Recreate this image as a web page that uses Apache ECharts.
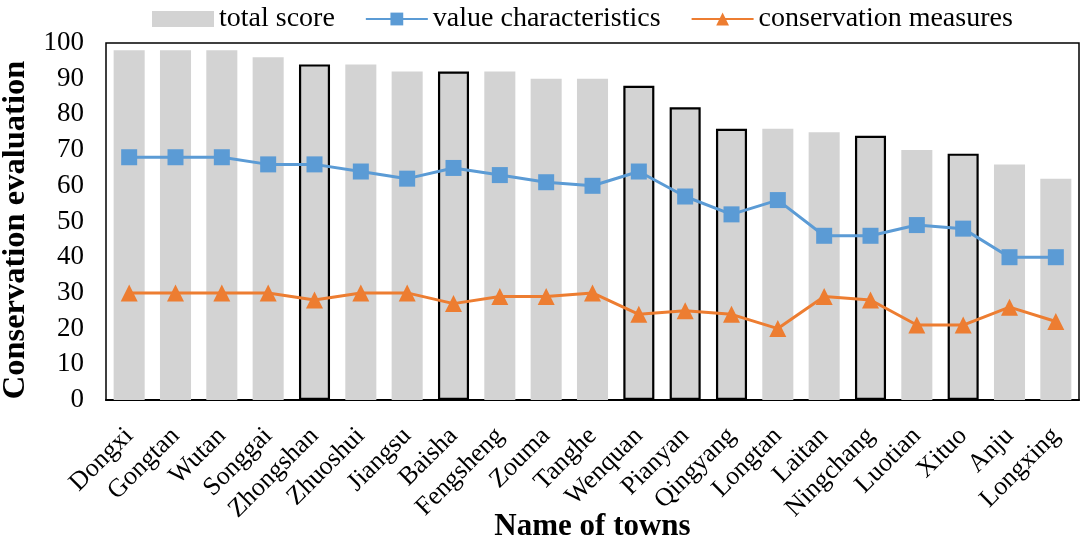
<!DOCTYPE html>
<html>
<head>
<meta charset="utf-8">
<script src="https://cdn.jsdelivr.net/npm/echarts@6/dist/echarts.min.js"></script>
<style>
  html, body { margin: 0; padding: 0; background: #fff; }
  #container { width: 1084px; height: 541px; }
</style>
</head>
<body>
<div id="container"></div>
<script>
var towns = ['Dongxi', 'Gongtan', 'Wutan', 'Songgai', 'Zhongshan', 'Zhuoshui', 'Jiangsu', 'Baisha',
  'Fengsheng', 'Zouma', 'Tanghe', 'Wenquan', 'Pianyan', 'Qingyang', 'Longtan', 'Laitan',
  'Ningchang', 'Luotian', 'Xituo', 'Anju', 'Longxing'];
var totalScore = [98, 98, 98, 96, 94, 94, 92, 92, 92, 90, 90, 88, 82, 76, 76, 75, 74, 70, 69, 66, 62];
var valueChar = [68, 68, 68, 66, 66, 64, 62, 65, 63, 61, 60, 64, 57, 52, 56, 46, 46, 49, 48, 40, 40];
var consMeasures = [30, 30, 30, 30, 28, 30, 30, 27, 29, 29, 30, 24, 25, 24, 20, 29, 28, 21, 21, 26, 22];
// towns drawn with a black outline in the original figure
var outlined = ['Zhongshan', 'Baisha', 'Wenquan', 'Pianyan', 'Qingyang', 'Ningchang', 'Xituo'];

var dom = document.getElementById('container');
var myChart = echarts.init(dom, null, { renderer: 'canvas' });
var font = '"Liberation Serif", "Times New Roman", serif';

var barData = totalScore.map(function (v, i) {
  if (outlined.indexOf(towns[i]) >= 0) {
    return { value: v, itemStyle: { borderColor: '#000', borderWidth: 2.2 } };
  }
  return v;
});

var option = {
  animation: false,
  textStyle: { fontFamily: font },
  legend: {
    top: 0,
    left: 147,
    itemGap: 30,
    itemWidth: 62,
    itemHeight: 16,
    textStyle: { fontFamily: font, fontSize: 28, color: '#000' },
    data: [
      { name: 'total score', icon: 'rect' },
      'value characteristics',
      'conservation measures'
    ]
  },
  grid: {
    left: 106,
    right: 5,
    top: 43,
    bottom: 141,
    containLabel: false,
    outerBoundsMode: 'none',
    show: true,
    borderColor: '#000',
    borderWidth: 1.5
  },
  xAxis: {
    type: 'category',
    data: towns,
    name: 'Name of towns',
    nameLocation: 'middle',
    nameGap: 111,
    nameMoveOverlap: false,
    nameTextStyle: { fontFamily: font, fontSize: 31, fontWeight: 'bold', color: '#000' },
    axisLine: { lineStyle: { color: '#000', width: 2 } },
    axisTick: { show: false },
    axisLabel: {
      interval: 0,
      rotate: 45,
      margin: 32,
      fontFamily: font,
      fontSize: 26,
      color: '#000'
    }
  },
  yAxis: {
    type: 'value',
    min: 0,
    max: 100,
    interval: 10,
    name: 'Conservation evaluation',
    nameLocation: 'middle',
    nameGap: 74,
    nameMoveOverlap: false,
    nameTextStyle: {
      fontFamily: font, fontSize: 32.5, fontWeight: 'bold', color: '#000',
      padding: [0, 17, 0, 0]
    },
    axisLine: { show: false },
    axisTick: { show: false },
    splitLine: { show: false },
    axisLabel: { fontFamily: font, fontSize: 27, color: '#000', margin: 22 }
  },
  series: [
    {
      name: 'total score',
      type: 'bar',
      data: barData,
      barWidth: '67%',
      itemStyle: { color: '#d3d3d3' }
    },
    {
      name: 'value characteristics',
      type: 'line',
      data: valueChar,
      symbol: 'rect',
      symbolSize: 16,
      lineStyle: { color: '#5b9bd5', width: 3 },
      itemStyle: { color: '#5b9bd5' }
    },
    {
      name: 'conservation measures',
      type: 'line',
      data: consMeasures,
      symbol: 'triangle',
      symbolSize: 17,
      lineStyle: { color: '#ed7d31', width: 3 },
      itemStyle: { color: '#ed7d31' }
    }
  ]
};

myChart.setOption(option);
window.addEventListener('resize', myChart.resize);
</script>
</body>
</html>
